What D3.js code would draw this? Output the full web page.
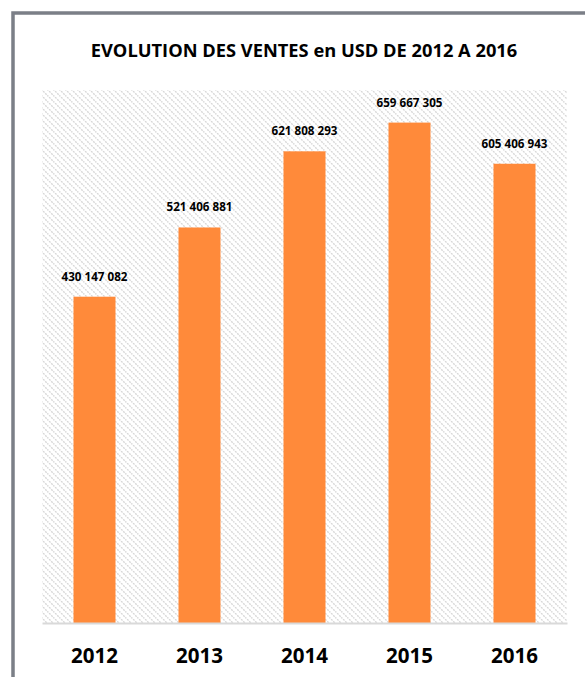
<!DOCTYPE html>
<html>
<head>
<meta charset="utf-8">
<script src="https://cdn.jsdelivr.net/npm/d3@7"></script>
<style>
  html, body { margin: 0; padding: 0; background: #fff; overflow: hidden; }
  svg { display: block; }
</style>
</head>
<body>
<svg id="chart"></svg>
<script>
var years = ["2012", "2013", "2014", "2015", "2016"];
var sales = [430147082, 521406881, 621808293, 659667305, 605406943];
var title = "EVOLUTION DES VENTES en USD DE 2012 A 2016";

var width = 585, height = 677;
var plot = { left: 42, right: 567, top: 90, bottom: 623 };
var font = "'Liberation Sans Narrow', 'Open Sans', sans-serif";

var svg = d3.select("#chart").attr("width", width).attr("height", height);

// hatch background
var defs = svg.append("defs");
var pat = defs.append("pattern")
  .attr("id", "hatch")
  .attr("patternUnits", "userSpaceOnUse")
  .attr("width", 6).attr("height", 6);
pat.append("path")
  .attr("d", "M-1,-1 L7,7 M-1,5 L1,7 M5,-1 L7,1")
  .attr("stroke", "#d8d8d8")
  .attr("stroke-width", 1.4)
  .attr("stroke-dasharray", "2,1");

// outer frame: only top and left edges are inside the window
svg.append("path")
  .attr("d", "M13," + (height + 10) + " V13 H" + (width + 10))
  .attr("fill", "none")
  .attr("stroke", "#7b7f87")
  .attr("stroke-width", 3.5);

var titleText = svg.append("text")
  .attr("x", 304).attr("y", 57)
  .attr("text-anchor", "middle")
  .attr("font-family", font)
  .attr("font-weight", "bold")
  .attr("font-size", 16)
  .attr("fill", "#000")
  .text(title);
// fit title to the width it has in the original
var tw = titleText.node().getComputedTextLength();
titleText.attr("font-size", 16 * 427 / tw);

svg.append("rect")
  .attr("x", plot.left).attr("y", plot.top)
  .attr("width", plot.right - plot.left)
  .attr("height", plot.bottom - plot.top)
  .attr("fill", "url(#hatch)");

var x = d3.scaleBand()
  .domain(years)
  .range([plot.left, plot.right])
  .paddingInner(0.6)
  .paddingOuter(0.3);

var y = d3.scaleLinear()
  .domain([0, 700000000])
  .range([plot.bottom, 92]);

var data = years.map(function (d, i) { return { year: d, value: sales[i] }; });

svg.append("g")
  .attr("fill", "#ff8a3a")
  .selectAll("rect")
  .data(data)
  .enter().append("rect")
  .attr("x", function (d) { return x(d.year); })
  .attr("y", function (d) { return y(d.value); })
  .attr("width", x.bandwidth())
  .attr("height", function (d) { return y(0) - y(d.value); });

var fmt = d3.formatLocale({ thousands: " ", grouping: [3], decimal: ",", currency: ["", ""] }).format(",d");

var labels = svg.append("g")
  .selectAll("text")
  .data(data)
  .enter().append("text")
  .attr("x", function (d) { return x(d.year) + x.bandwidth() / 2; })
  .attr("y", function (d) { return y(d.value) - 16; })
  .attr("text-anchor", "middle")
  .attr("font-family", font)
  .attr("font-weight", "bold")
  .attr("font-size", 12)
  .attr("fill", "#000")
  .text(function (d) { return fmt(d.value); });
var lw = labels.node().getComputedTextLength();
labels.attr("font-size", 12 * 66 / lw);

// category axis
var xAxis = svg.append("g")
  .attr("transform", "translate(0," + plot.bottom + ")")
  .call(d3.axisBottom(x).tickSize(0).tickPadding(25));
xAxis.select(".domain").attr("stroke", "#d9d9d9").attr("stroke-width", 2);
var ticks = xAxis.selectAll("text")
  .attr("font-family", font)
  .attr("font-weight", "bold")
  .attr("font-size", 20)
  .attr("fill", "#000");
var yw = ticks.node().getComputedTextLength();
ticks.attr("font-size", 20 * 47 / yw);
</script>
</body>
</html>
